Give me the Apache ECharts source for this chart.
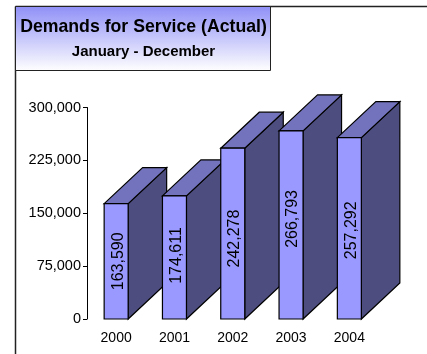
<!DOCTYPE html>
<html>
<head>
<meta charset="utf-8">
<style>html,body{margin:0;padding:0;background:#fff}#c{width:427px;height:354px}</style>
<script src="https://cdn.jsdelivr.net/npm/echarts@6/dist/echarts.min.js"></script>
</head>
<body>
<div id="c"></div>
<script>
const categories = ['2000', '2001', '2002', '2003', '2004'];
const demands = [163590, 174611, 242278, 266793, 257292];
const yTicks = [0, 75000, 150000, 225000, 300000];
const titleText = 'Demands for Service (Actual)';
const subtitleText = 'January - December';

const FONT = '"Liberation Sans", Arial, sans-serif';
const BAR_W = 24, DX = 38.5, DY = 36;
const LABEL_SHIFT = [0, -2, 5, -6, 2];
const chart = echarts.init(document.getElementById('c'), null, {renderer: 'canvas'});
const fmt = v => v.toLocaleString('en-US');

chart.setOption({
  animation: false,
  backgroundColor: '#fff',
  grid: {left: 87, top: 107.5, width: 291.5, height: 211.5, containLabel: false},
  xAxis: {
    type: 'category', data: categories,
    axisLine: {show: false}, axisTick: {show: false},
    axisLabel: {color: '#000', fontFamily: FONT, fontSize: 14, margin: 12}
  },
  yAxis: {
    type: 'value', min: yTicks[0], max: yTicks[yTicks.length - 1], interval: yTicks[1],
    splitLine: {show: false},
    axisLine: {show: true, lineStyle: {color: '#000', width: 1}},
    axisTick: {show: true, length: 4, lineStyle: {color: '#000', width: 1}},
    axisLabel: {color: '#000', fontFamily: FONT, fontSize: 14.5, margin: 6,
      formatter: v => fmt(v)}
  },
  series: [{
    type: 'custom',
    data: demands.map((v, i) => [i, v]),
    encode: {x: 0, y: 1},
    clip: false,
    renderItem(params, api) {
      const top = api.coord([api.value(0), api.value(1)]);
      const base = api.coord([api.value(0), 0]);
      const x0 = top[0] - BAR_W / 2, x1 = top[0] + BAR_W / 2;
      const yT = top[1], yB = base[1];
      const line = {stroke: '#000', lineWidth: 1.2};
      const poly = (pts, fill) => ({
        type: 'polygon', shape: {points: pts},
        style: Object.assign({fill}, line)
      });
      return {
        type: 'group',
        children: [
          poly([[x1, yT], [x1 + DX, yT - DY], [x1 + DX, yB - DY], [x1, yB]], '#4d4d80'),
          poly([[x0, yT], [x0 + DX, yT - DY], [x1 + DX, yT - DY], [x1, yT]], '#7373bd'),
          poly([[x0, yT], [x1, yT], [x1, yB], [x0, yB]], '#9999ff'),
          {
            type: 'text', x: top[0] + 2, y: (yT + yB) / 2 + LABEL_SHIFT[params.dataIndex],
            rotation: Math.PI / 2,
            style: {text: fmt(api.value(1)), fill: '#000', font: '16px ' + FONT,
              align: 'center', verticalAlign: 'middle'}
          }
        ]
      };
    }
  }],
  graphic: [
    {type: 'line', shape: {x1: 15.5, y1: 6.5, x2: 427, y2: 6.5}, style: {stroke: '#222', lineWidth: 1.5}},
    {type: 'line', shape: {x1: 15.5, y1: 6.5, x2: 15.5, y2: 354}, style: {stroke: '#222', lineWidth: 1.5}},
    {type: 'rect', shape: {x: 15.5, y: 6.5, width: 255, height: 64},
      style: {stroke: '#222', lineWidth: 1,
        fill: new echarts.graphic.LinearGradient(0, 0, 0, 1, [
          {offset: 0, color: '#8f8ff7'}, {offset: 1, color: '#ffffff'}])}},
    {type: 'text', x: 143.5, y: 27, style: {text: titleText, fill: '#000',
      font: 'bold 17.7px ' + FONT, align: 'center', verticalAlign: 'middle'}},
    {type: 'text', x: 143.5, y: 51.5, style: {text: subtitleText, fill: '#000',
      font: 'bold 15px ' + FONT, align: 'center', verticalAlign: 'middle'}}
  ]
});
</script>
</body>
</html>
